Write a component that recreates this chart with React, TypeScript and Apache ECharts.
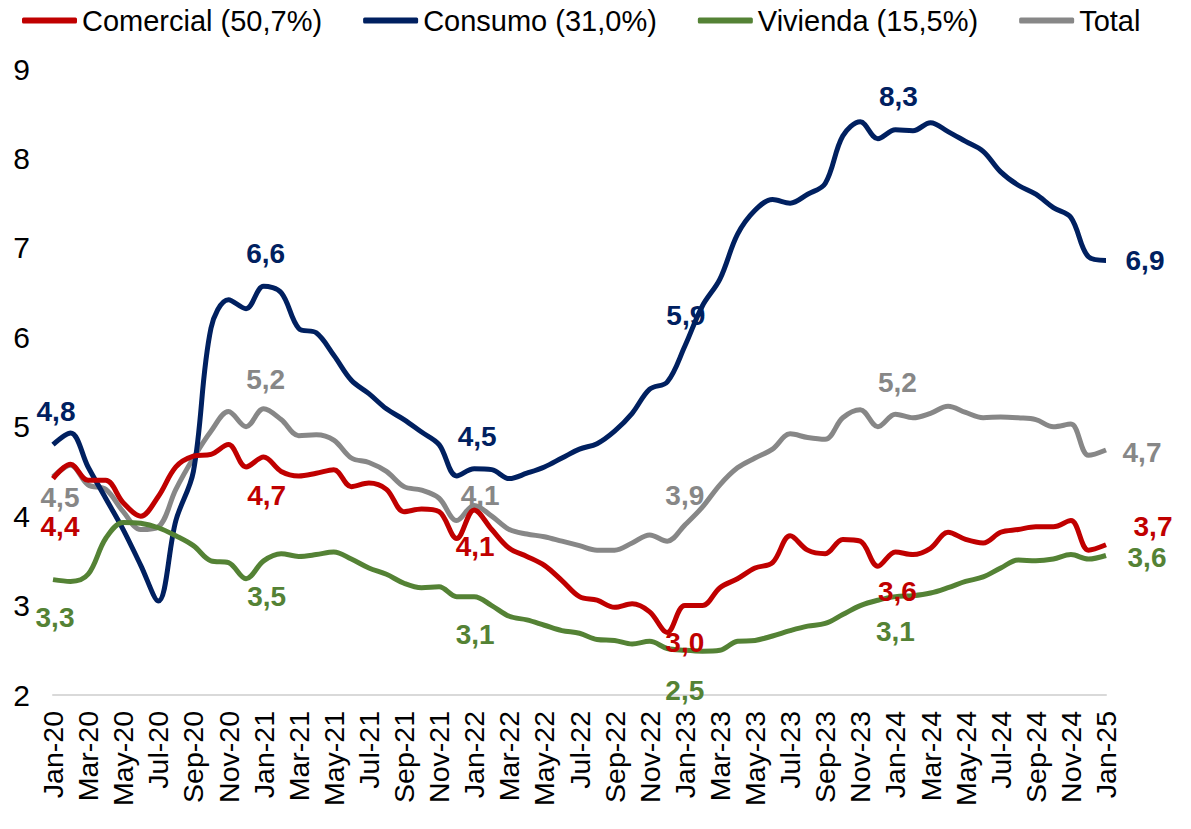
import React, { useEffect, useRef } from "react";
import * as echarts from "echarts";

const categories = [
  "Jan-20","Feb-20","Mar-20","Apr-20","May-20","Jun-20","Jul-20","Aug-20","Sep-20","Oct-20","Nov-20","Dec-20",
  "Jan-21","Feb-21","Mar-21","Apr-21","May-21","Jun-21","Jul-21","Aug-21","Sep-21","Oct-21","Nov-21","Dec-21",
  "Jan-22","Feb-22","Mar-22","Apr-22","May-22","Jun-22","Jul-22","Aug-22","Sep-22","Oct-22","Nov-22","Dec-22",
  "Jan-23","Feb-23","Mar-23","Apr-23","May-23","Jun-23","Jul-23","Aug-23","Sep-23","Oct-23","Nov-23","Dec-23",
  "Jan-24","Feb-24","Mar-24","Apr-24","May-24","Jun-24","Jul-24","Aug-24","Sep-24","Oct-24","Nov-24","Dec-24",
  "Jan-25",
];

const comercial = [
  4.42, 4.58, 4.4, 4.4, 4.15, 4.0, 4.22, 4.55, 4.67, 4.69, 4.8, 4.55,
  4.66, 4.5, 4.45, 4.48, 4.52, 4.33, 4.37, 4.3, 4.05, 4.08, 4.05, 3.75,
  4.07, 3.85, 3.64, 3.55, 3.45, 3.28, 3.1, 3.06, 2.98, 3.02, 2.93, 2.7,
  3.0, 3.0, 3.2, 3.3, 3.42, 3.48, 3.78, 3.62, 3.58, 3.74, 3.72, 3.44,
  3.6, 3.57, 3.64, 3.82, 3.74, 3.7, 3.82, 3.85, 3.88, 3.88, 3.95, 3.62,
  3.68,
];

const consumo = [
  4.8, 4.93, 4.55, 4.2, 3.85, 3.45, 3.05, 3.95, 4.5, 6.1, 6.42, 6.32,
  6.57, 6.5, 6.1, 6.05, 5.8, 5.52, 5.37, 5.2, 5.08, 4.94, 4.8, 4.45,
  4.53, 4.52, 4.42, 4.48, 4.55, 4.65, 4.75, 4.81, 4.95, 5.15, 5.42, 5.5,
  5.9, 6.35, 6.65, 7.15, 7.42, 7.54, 7.5, 7.6, 7.72, 8.25, 8.41, 8.22,
  8.32, 8.31, 8.4, 8.3, 8.19, 8.08, 7.85, 7.7, 7.6, 7.45, 7.34, 6.9,
  6.86,
];

const vivienda = [
  3.29, 3.27, 3.35, 3.75, 3.93, 3.92, 3.87, 3.78, 3.67, 3.5, 3.48, 3.3,
  3.5, 3.58, 3.55, 3.57, 3.6, 3.52, 3.42, 3.35, 3.25, 3.2, 3.21, 3.1,
  3.1, 3.0, 2.88, 2.84, 2.78, 2.72, 2.69, 2.62, 2.61, 2.57, 2.6, 2.52,
  2.5, 2.49, 2.5, 2.6, 2.61, 2.66, 2.72, 2.77, 2.8, 2.9, 3.0, 3.06,
  3.1, 3.11, 3.14, 3.2, 3.27, 3.32, 3.42, 3.51, 3.5, 3.52, 3.57, 3.52,
  3.56,
];

const total = [
  4.44, 4.57, 4.35, 4.3, 4.05, 3.85, 3.88, 4.3, 4.65, 4.95, 5.17, 5.0,
  5.2, 5.08, 4.9, 4.91, 4.85, 4.65, 4.6, 4.5, 4.33, 4.29, 4.2, 3.95,
  4.12, 4.0, 3.85, 3.8, 3.77, 3.72, 3.67, 3.62, 3.62, 3.7, 3.79, 3.72,
  3.9, 4.1, 4.35, 4.54, 4.65, 4.75, 4.92, 4.88, 4.86, 5.1, 5.19, 5.0,
  5.14, 5.1, 5.15, 5.23, 5.16, 5.1, 5.11, 5.1, 5.08, 5.0, 5.03, 4.68,
  4.74,
];

const seriesNames = ["Comercial (50,7%)", "Consumo (31,0%)", "Vivienda (15,5%)", "Total"];

// annotated points: Jan of each year (indices) and their printed values
const labelIndices = [0, 12, 24, 36, 48, 60];
const comercialLabels = ["4,4", "4,7", "4,1", "3,0", "3,6", "3,7"];
const consumoLabels = ["4,8", "6,6", "4,5", "5,9", "8,3", "6,9"];
const viviendaLabels = ["3,3", "3,5", "3,1", "2,5", "3,1", "3,6"];
const totalLabels = ["4,5", "5,2", "4,1", "3,9", "5,2", "4,7"];

const FONT = "'Liberation Sans', Arial, sans-serif";

function buildData(values: number[], texts: string[], offsets: number[][], color: string) {
  return values.map((v, i) => {
    const k = labelIndices.indexOf(i);
    if (k < 0) return v;
    return {
      value: v,
      label: {
        show: true,
        position: "inside",
        align: "center",
        verticalAlign: "middle",
        offset: offsets[k],
        formatter: texts[k],
        color,
        fontSize: 28,
        fontWeight: "bold",
        fontFamily: FONT,
      },
    };
  });
}

export default function App() {
  const ref = useRef<HTMLDivElement>(null);
  useEffect(() => {
    if (!ref.current) return;
    const chart = echarts.init(ref.current, undefined, { renderer: "svg" });
    const colors = ["#c00000", "#002060", "#548235", "#878787"];
    const offs = {
      comercial: [[7, 48], [3, 38], [1, 37], [0, 37], [2, 40], [47, -18]],
      consumo: [[3, -33], [2, -33], [3, -32], [1, -31], [3, -33], [39, 0]],
      vivienda: [[2, 38], [3, 36], [1, 38], [0, 40], [0, 35], [41, 2]],
      total: [[7, 21], [2, -29], [6, -10], [0, -30], [2, -32], [36, 3]],
    };
    const mk = (name: string, data: any[], color: string, z: number) => ({
      name,
      type: "line",
      data,
      smooth: 0.35,
      showSymbol: true,
      symbol: "circle",
      symbolSize: 0,
      z,
      lineStyle: { color, width: 5 },
      itemStyle: { color },
      emphasis: { disabled: true },
      label: { show: false },
    });
    chart.setOption({
      animation: false,
      color: colors,
      legend: {
        top: 1,
        left: 17,
        icon: "roundRect",
        itemWidth: 55,
        itemHeight: 6,
        itemGap: 41,
        textStyle: { fontSize: 29, color: "#000", fontFamily: FONT },
        data: seriesNames,
      },
      grid: { left: 53, right: 85, top: 69, bottom: 134, containLabel: false },
      xAxis: {
        type: "category",
        data: categories,
        boundaryGap: false,
        axisLine: { lineStyle: { color: "#d9d9d9", width: 2 } },
        axisTick: { show: false },
        axisLabel: {
          rotate: 90,
          interval: 1,
          fontSize: 28.5,
          color: "#000",
          margin: 16,
          fontFamily: FONT,
        },
      },
      yAxis: {
        type: "value",
        min: 2,
        max: 9,
        interval: 1,
        splitLine: { show: false },
        axisLine: { show: false },
        axisTick: { show: false },
        axisLabel: { fontSize: 30, color: "#000", margin: 23, fontFamily: FONT },
      },
      series: [
        mk(seriesNames[0], buildData(comercial, comercialLabels, offs.comercial, colors[0]), colors[0], 3),
        mk(seriesNames[1], buildData(consumo, consumoLabels, offs.consumo, colors[1]), colors[1], 2),
        mk(seriesNames[2], buildData(vivienda, viviendaLabels, offs.vivienda, colors[2]), colors[2], 2),
        mk(seriesNames[3], buildData(total, totalLabels, offs.total, colors[3]), colors[3], 1),
      ],
    });
    return () => chart.dispose();
  }, []);
  return (
    <div
      ref={ref}
      style={{ position: "fixed", left: 0, top: 0, width: 1191, height: 829, background: "#fff" }}
    />
  );
}
